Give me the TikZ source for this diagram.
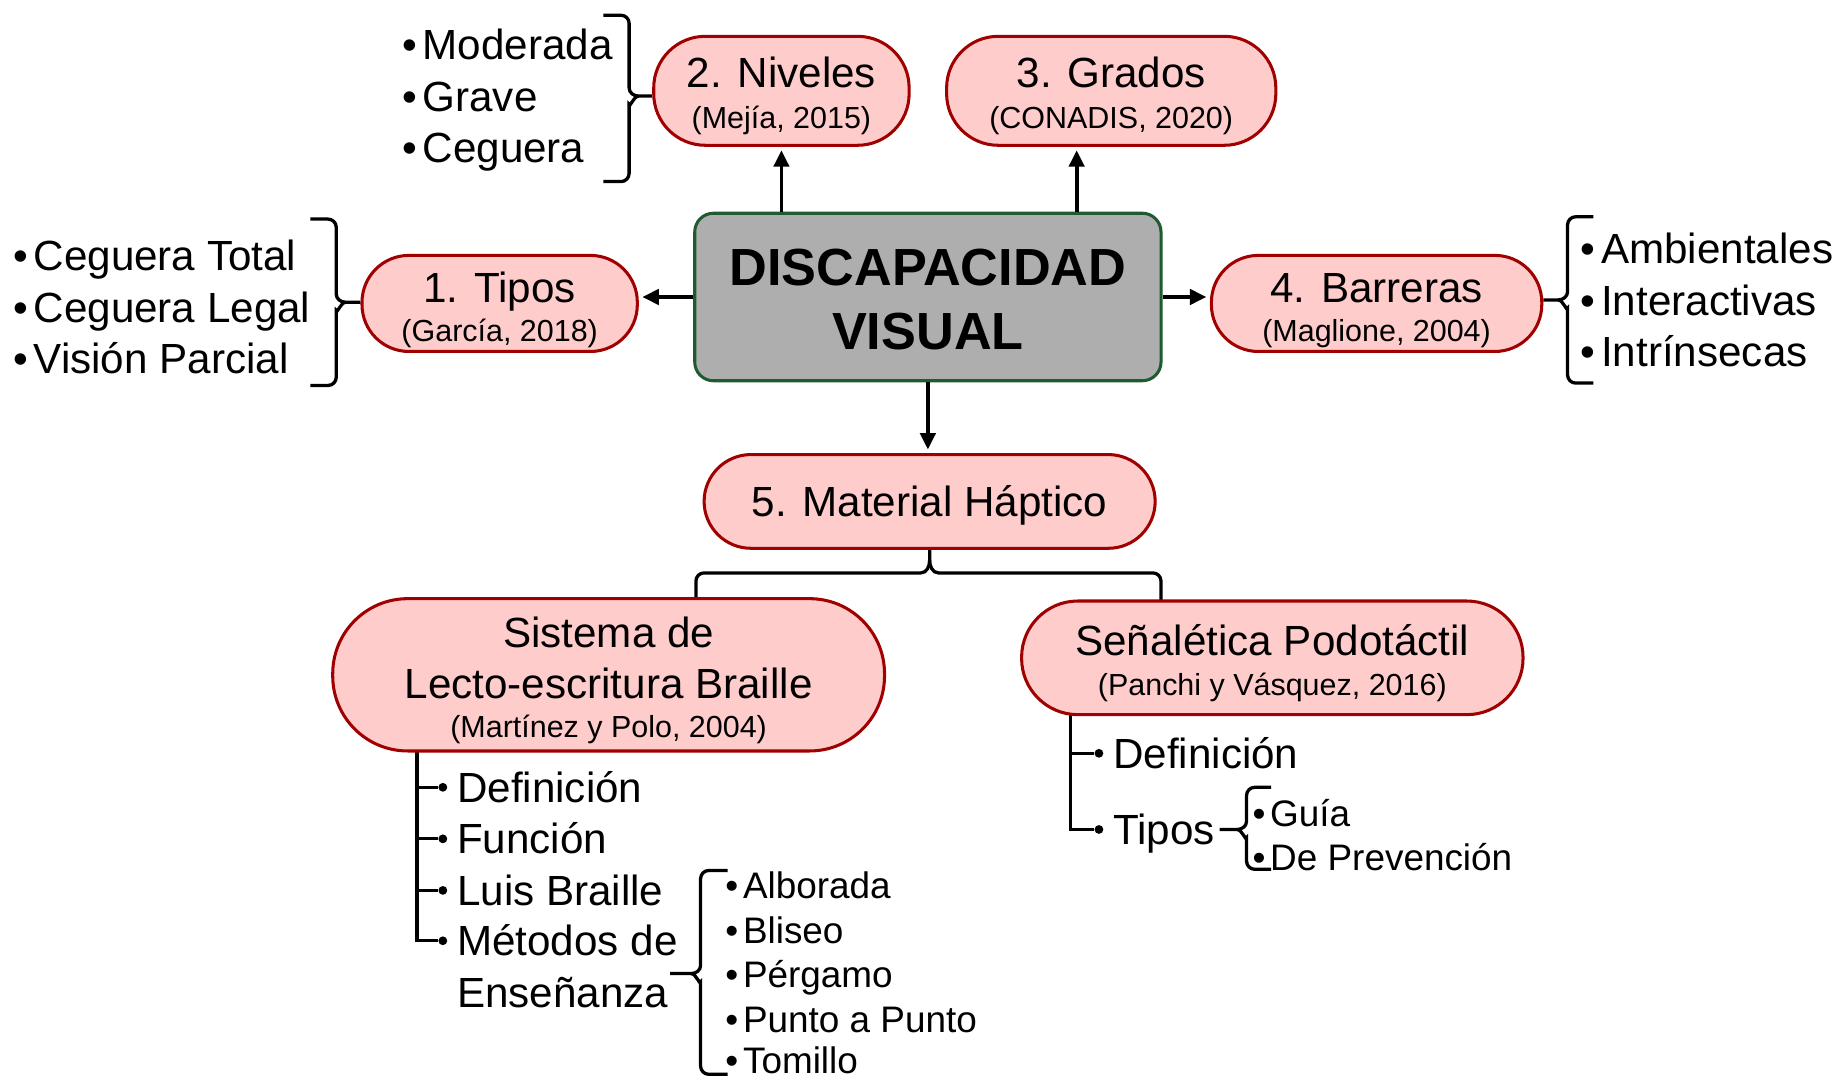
\documentclass[tikz,border=0pt]{standalone}
\usepackage{fontspec}
\setmainfont{Liberation Sans}
\usetikzlibrary{arrows.meta,calc}
\pgfdeclarelayer{background}
\pgfsetlayers{background,main}
\definecolor{pinkfill}{HTML}{FFCCCC}
\definecolor{darkred}{HTML}{A00000}
\definecolor{grayfill}{HTML}{AEAEAE}
\definecolor{darkgreen}{HTML}{1F5A30}
\newcommand{\bul}{•\hspace{5pt}}
\newcommand{\sbul}{•\hspace{4pt}}
\begin{document}
\begin{tikzpicture}[x=1pt,y=-1pt,
 pbox/.style={draw=darkred, fill=pinkfill, line width=2.6pt, inner sep=0},
 cbox/.style={draw=darkgreen, fill=grayfill, line width=2.6pt, rounded corners=16pt, inner sep=0},
 bigt/.style={font=\fontsize{36}{40}\selectfont, inner sep=0, anchor=base},
 citet/.style={font=\fontsize{26}{30}\selectfont, inner sep=0, anchor=base},
 boldt/.style={font=\fontsize{44.6}{50}\selectfont\bfseries, inner sep=0, anchor=base},
 item/.style={font=\fontsize{36}{40}\selectfont, inner sep=0, anchor=base west},
 sitem/.style={font=\fontsize{31.5}{36}\selectfont, inner sep=0, anchor=base west},
 arr/.style={line width=3.2pt, -{Triangle[length=14pt,width=13pt]}, shorten >=3pt},
 brace/.style={line width=2.8pt},
 dotn/.style={circle, fill=black, inner sep=0, minimum size=7.5pt},
]
\useasboundingbox (0,0) rectangle (1568,921);

% central box
\node[cbox, minimum width=398pt, minimum height=143pt] (dv) at (792,253.5) {};
\node[boldt] (dv1) at (792,244) {DISCAPACIDAD};
\node[boldt] (dv2) at (792,298) {VISUAL};

% pink boxes
\node[pbox, rounded corners=44pt, minimum width=218pt, minimum height=93pt] (niv) at (667,77.5) {};
\node[bigt] (niv1) at (667,74.9) {2. Niveles};
\node[citet] (niv2) at (667,109.3) {(Mejía, 2015)};

\node[pbox, rounded corners=44pt, minimum width=281pt, minimum height=93pt] (gra) at (948.5,77.5) {};
\node[bigt] (gra1) at (948.5,74.9) {3. Grados};
\node[citet] (gra2) at (948.5,109.3) {(CONADIS, 2020)};

\node[pbox, rounded corners=40pt, minimum width=235pt, minimum height=82pt] (tip) at (426.5,259) {};
\node[bigt] (tip1) at (426.5,257.9) {1. Tipos};
\node[citet] (tip2) at (426.5,291.3) {(García, 2018)};

\node[pbox, rounded corners=40pt, minimum width=282pt, minimum height=82pt] (bar) at (1175,259) {};
\node[bigt] (bar1) at (1175,257.9) {4. Barreras};
\node[citet] (bar2) at (1175,291.3) {(Maglione, 2004)};

\node[pbox, rounded corners=40pt, minimum width=385pt, minimum height=80pt] (mat) at (793.5,428) {};
\node[bigt] (mat1) at (793.5,440.9) {5. Material Háptico};

\node[pbox, rounded corners=64pt, minimum width=471pt, minimum height=130pt] (sis) at (519.5,576) {};
\node[bigt] (sis1) at (519.5,552.9) {Sistema de};
\node[bigt] (sis2) at (519.5,595.9) {Lecto-escritura Braille};
\node[citet] (sis3) at (519.5,629.3) {(Martínez y Polo, 2004)};

\node[pbox, rounded corners=48pt, minimum width=428pt, minimum height=97pt] (sen) at (1086,561.5) {};
\node[bigt] (sen1) at (1086,559.9) {Señalética Podotáctil};
\node[citet] (sen2) at (1086,593.3) {(Panchi y Vásquez, 2016)};

% arrows
\draw[arr] (dv.north -| niv.south) -- (niv.south);
\draw[arr] ([xshift=-29.5pt]gra.south |- dv.north) -- ([xshift=-29.5pt]gra.south);
\draw[arr] (dv.west) -- (dv.west -| tip.east);
\draw[arr] (dv.east) -- (dv.east -| bar.west);
\draw[arr] (dv.south) -- (dv.south |- mat.north);

% lists
\node[item] (l1) at (343,50.9) {\bul Moderada};
\node[item] (l2) at (343,94.9) {\bul Grave};
\node[item] (l3) at (343,138.9) {\bul Ceguera};

\node[item] (t1) at (11,230.9) {\bul Ceguera Total};
\node[item] (t2) at (11,274.9) {\bul Ceguera Legal};
\node[item] (t3) at (11,318.9) {\bul Visión Parcial};

\node[item] (b1) at (1349,224.9) {\bul Ambientales};
\node[item] (b2) at (1349,268.9) {\bul Interactivas};
\node[item] (b3) at (1349,312.9) {\bul Intrínsecas};

% Sistema sub-items
\node[dotn] (sd1) at (378,672) {};
\node[dotn] (sd2) at (378,716) {};
\node[dotn] (sd3) at (378,760) {};
\node[dotn] (sd4) at (378,803) {};
\node[item] (s1) at (390,684.9) {Definición};
\node[item] (s2) at (390,728.9) {Función};
\node[item] (s3) at (390,772.9) {Luis Braille};
\node[item] (s4) at (390,815.9) {Métodos de};
\node[item] (s5) at (390,859.9) {Enseñanza};

\node[sitem] (m1) at (619,767.3) {\sbul Alborada};
\node[sitem] (m2) at (619,805.3) {\sbul Bliseo};
\node[sitem] (m3) at (619,843.3) {\sbul Pérgamo};
\node[sitem] (m4) at (619,881.3) {\sbul Punto a Punto};
\node[sitem] (m5) at (619,916) {\sbul Tomillo};

% Senaletica sub-items
\node[dotn] (ed1) at (938,643) {};
\node[dotn] (ed2) at (938,708) {};
\node[item] (e1) at (950,655.9) {Definición};
\node[item] (e2) at (950,720.9) {Tipos};
\node[sitem] (g1) at (1069,705.3) {\sbul Guía};
\node[sitem] (g2) at (1069,743.3) {\sbul De Prevención};

% braces
\draw[brace] (515,13) -- (530,13) to[out=0,in=90] (537,20) -- (537,75) to[out=-90,in=180] (545,82) -- (niv.west |- 0,82);
\draw[brace] (545,82) to[out=180,in=-90] (537,89) -- (537,148) to[out=-90,in=0] (530,155) -- (515,155);

\draw[brace] (265,187) -- (280,187) to[out=0,in=90] (287,194) -- (287,251) to[out=-90,in=180] (295,258) -- (tip.west |- 0,258);
\draw[brace] (295,258) to[out=180,in=-90] (287,265) -- (287,322) to[out=-90,in=0] (280,329) -- (265,329);

\draw[brace] (1360,185) -- (1345,185) to[out=180,in=90] (1338,192) -- (1338,249) to[out=-90,in=0] (1330,256) -- (bar.east |- 0,256);
\draw[brace] (1330,256) to[out=0,in=-90] (1338,263) -- (1338,320) to[out=-90,in=180] (1345,327) -- (1360,327);

\draw[brace] (621,743) -- (605,743) to[out=180,in=90] (598,750) -- (598,824) to[out=-90,in=0] (590,831) -- (572,831);
\draw[brace] (590,831) to[out=0,in=-90] (598,838) -- (598,910) to[out=-90,in=180] (605,917) -- (621,917);

\draw[brace] (1085,672) -- (1071,672) to[out=180,in=90] (1064,679) -- (1064,701) to[out=-90,in=0] (1056,708) -- (1041,708);
\draw[brace] (1056,708) to[out=0,in=-90] (1064,715) -- (1064,735) to[out=-90,in=180] (1071,742) -- (1085,742);

\begin{pgfonlayer}{background}
\draw[brace] (mat.south) -- (793.5,478) to[out=-90,in=0] (786,489) -- (601,489) to[out=180,in=90] (594,496) -- (594,520);
\draw[brace] (793.5,478) to[out=-90,in=180] (801,489) -- (984,489) to[out=0,in=90] (991,496) -- (991,520);
\draw[brace] (356,630) -- (356,803) -- (sd4);
\draw[brace] (356,672) -- (sd1);
\draw[brace] (356,716) -- (sd2);
\draw[brace] (356,760) -- (sd3);
\draw[brace] (914,600) -- (914,708) -- (ed2);
\draw[brace] (914,643) -- (ed1);
\end{pgfonlayer}
\end{tikzpicture}
\end{document}
